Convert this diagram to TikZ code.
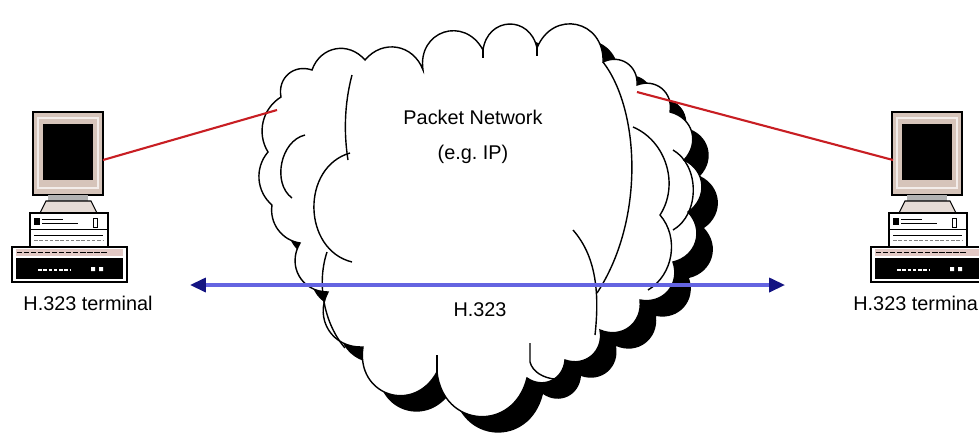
\documentclass[tikz,border=0pt]{standalone}
\usepackage{fontspec}
\setmainfont{Liberation Sans}
\usetikzlibrary{arrows.meta}

\definecolor{bezel}{RGB}{214,196,186}
\definecolor{keystrip}{RGB}{226,200,196}
\definecolor{linkred}{RGB}{200,30,35}
\definecolor{sigblue}{RGB}{100,100,225}
\definecolor{tipblue}{RGB}{20,20,130}

% outer rim of the network cloud
\def\cloudrim{(268,152) to[lowbump] (281,97) to[bump] (312,70) to[bump] (365,60)
  to[bump] (423,70) to[bigbump] (483,50) to[bigbump] (537,48) to[bigbump] (603,62)
  to[bump] (637,85) to[bump] (670,112) to[bump] (684,160) to[bump] (688,212)
  to[bump] (673,262) to[bump] (640,300) to[bump] (600,330) to[bump] (565,360)
  to[bump] (527,378) to[bigbump] (437,372) to[bigbump] (363,347) to[bump] (328,292)
  to[bump] (300,243) to[lowbump] (272,205) to[lowbump] (268,152) -- cycle}

\tikzset{
  rim/.style={draw=black, line width=0.8pt, fill=white},
  fold/.style={draw=black, line width=0.8pt},
  bump/.style={bend left=60, looseness=1.2},
  bigbump/.style={bend left=80, looseness=1.6},
  lowbump/.style={bend left=45},
  redlink/.style={linkred, line width=1.2pt},
  sigline/.style={sigblue, line width=1.8pt,
    {Triangle[length=9pt,width=8pt,color=tipblue]}-{Triangle[length=9pt,width=8pt,color=tipblue]}},
  lbl/.style={font=\fontsize{11.3}{13}\selectfont, inner sep=0pt},
  terminal/.pic={
    % monitor
    \draw[fill=bezel, line width=0.6pt] (0,0) rectangle (70,83);
    \draw[white!70!bezel, line width=0.6pt] (5,6) rectangle (65,76);
    \fill[black] (10,12) rectangle (60,68);
    % neck and foot
    \fill[gray!60] (15,83) rectangle (55,89);
    \draw[fill=bezel!60, line width=0.6pt] (13,89) -- (58,89) -- (64,101) -- (7,101) -- cycle;
    % system unit
    \draw[fill=white, line width=0.6pt] (-3,101) rectangle (75,135);
    \fill[black] (1,106) rectangle (7,113);
    \draw[line width=0.5pt] (9,107) -- (30,107) (9,111) -- (45,111) (-3,117) -- (75,117) (1,123) -- (70,123);
    \draw[line width=0.5pt] (60,106) rectangle (64,115);
    \draw[gray, line width=0.4pt, dash pattern=on 2pt off 1pt] (1,128) -- (70,128);
    % keyboard
    \draw[fill=white, line width=0.6pt] (-21,135) rectangle (94,170);
    \fill[keystrip] (-17,137) rectangle (90,144);
    \draw[line width=0.5pt, dash pattern=on 3pt off 1pt] (-16,140.5) -- (75,140.5);
    \fill[black] (-17,146) rectangle (90,167);
    \draw[white, line width=0.6pt, dash pattern=on 2pt off 1pt] (5,158) -- (38,158);
    \fill[white] (58,155) rectangle (62,159) (66,155) rectangle (70,159);
  }
}

\begin{document}
\begin{tikzpicture}[x=0.02cm, y=-0.02cm]
\useasboundingbox (0,0) rectangle (979,437);

% cloud with its shadow
\fill[black, shift={(16,16)}] \cloudrim;
\path[rim] \cloudrim;
\draw[fold] (352,75) .. controls (344,105) and (344,135) .. (348,160);
\draw[fold] (350,153) to[bend right=75, looseness=1.2] (352,262);
\draw[fold] (305,135) to[bend right=65] (292,198);
\draw[fold] (327,252) .. controls (316,285) and (325,325) .. (345,348);
\draw[fold] (603,62) .. controls (640,110) and (645,220) .. (597,293);
\draw[fold] (573,230) .. controls (595,255) and (600,290) .. (595,335);
\draw[fold] (530,343) -- (530,362) to[bend right=70] (583,367);
\draw[fold] (437,355) -- (437,372);
\draw[fold] (633,127) to[bend left=50] (660,215) to[bend left=50] (648,290);
\draw[fold] (673,150) to[bend left=60] (673,230);
\draw[fold] (483,50) -- (483,58) (537,48) -- (537,56);

% terminals
\pic at (33,112) {terminal};
\pic at (892,112) {terminal};

\coordinate (lport) at (103,160);
\coordinate (rport) at (893,160);
\coordinate (cloudw) at (277,110);
\coordinate (cloude) at (637,92);
\coordinate (sigl) at (190,285);
\coordinate (sigr) at (785,285);

\draw[redlink] (lport) -- (cloudw);
\draw[redlink] (cloude) -- (rport);
\draw[sigline] (sigl) -- (sigr);

\node[lbl] (lname) at (88,303) {H.323 terminal};
\node[lbl, anchor=west] (rname) at (853,303) {H.323 terminal};
\node[lbl] (net) at (473,117) {Packet Network};
\node[lbl] (ip) at (473,154) {(e.g.\ IP)};
\node[lbl] (proto) at (480,310) {H.323};
\end{tikzpicture}
\end{document}
